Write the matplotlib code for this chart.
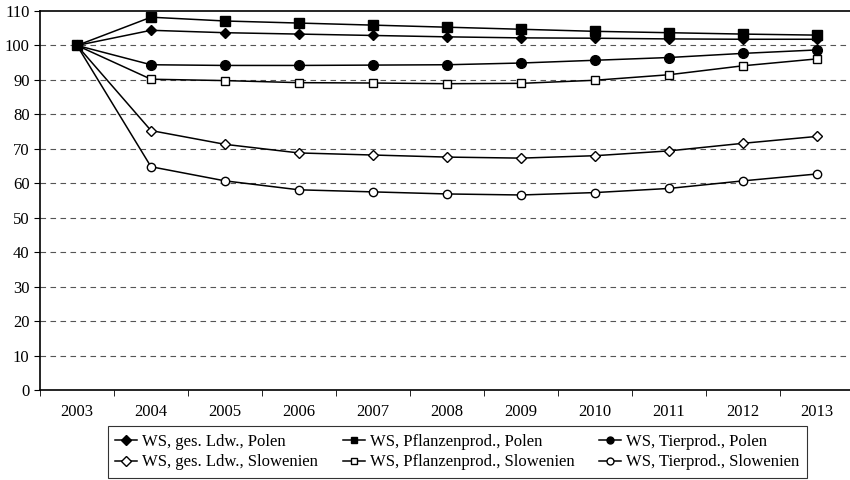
import matplotlib
matplotlib.use("Agg")
import matplotlib.pyplot as plt
import numpy as np

years = ["2003", "2004", "2005", "2006", "2007", "2008", "2009", "2010", "2011", "2012", "2013"]

ges_polen = [100, 104.4, 103.7, 103.3, 102.9, 102.5, 102.2, 102.1, 101.9, 101.8, 101.8]
pflanzen_polen = [100, 108.2, 107.1, 106.5, 105.9, 105.3, 104.7, 104.1, 103.7, 103.3, 103.0]
tier_polen = [100, 94.4, 94.2, 94.2, 94.3, 94.4, 94.9, 95.7, 96.5, 97.7, 98.7]
ges_slow = [100, 75.3, 71.3, 68.8, 68.2, 67.6, 67.3, 68.0, 69.4, 71.6, 73.6]
pflanzen_slow = [100, 90.2, 89.8, 89.2, 89.1, 88.9, 89.0, 89.9, 91.5, 94.1, 96.1]
tier_slow = [100, 64.8, 60.7, 58.1, 57.5, 56.9, 56.6, 57.3, 58.5, 60.7, 62.7]

labels = ["WS, ges. Ldw., Polen", "WS, Pflanzenprod., Polen", "WS, Tierprod., Polen",
          "WS, ges. Ldw., Slowenien", "WS, Pflanzenprod., Slowenien", "WS, Tierprod., Slowenien"]

plt.rcParams['font.family'] = ['Liberation Serif', 'DejaVu Serif']

fig = plt.figure(figsize=(8.5, 4.8), dpi=100)
ax = fig.add_axes([40/850, 90/480, 814/850, 379/480])

x = np.arange(len(years))
series = [ges_polen, pflanzen_polen, tier_polen, ges_slow, pflanzen_slow, tier_slow]
styles = [
    dict(marker='D', markersize=5, markerfacecolor='black'),
    dict(marker='s', markersize=7, markerfacecolor='black'),
    dict(marker='o', markersize=7, markerfacecolor='black'),
    dict(marker='D', markersize=5, markerfacecolor='white'),
    dict(marker='s', markersize=6, markerfacecolor='white'),
    dict(marker='o', markersize=6, markerfacecolor='white'),
]
zorders = [5, 6, 5, 3, 3, 3]
handles = []
for s, st, lab, z in zip(series, styles, labels, zorders):
    h, = ax.plot(x, s, color='black', linewidth=1.1, markeredgecolor='black',
                 markeredgewidth=1.0, label=lab, zorder=z, **st)
    handles.append(h)

ax.set_xlim(-0.5, len(years) - 0.5)
ax.set_ylim(0, 110)
ax.set_yticks(np.arange(0, 111, 10))
ax.set_xticks(x)
ax.set_xticklabels(years)
ax.set_xticks(np.arange(-0.5, len(years), 1), minor=True)
ax.tick_params(axis='x', which='major', length=0, pad=10, labelsize=12)
ax.tick_params(axis='x', which='minor', length=4, direction='out')
ax.tick_params(axis='y', length=4, direction='out', labelsize=12)

for v in range(10, 110, 10):
    ax.axhline(v, color='#555555', linestyle=(0, (5, 4)), linewidth=0.8, zorder=0)

for sp in ['top', 'left', 'bottom']:
    ax.spines[sp].set_linewidth(1.2)
ax.spines['right'].set_visible(False)

order = [0, 3, 1, 4, 2, 5]
leg = fig.legend([handles[i] for i in order], [labels[i] for i in order],
                 ncol=3, loc='lower left', bbox_to_anchor=(108/850, 2/480),
                 frameon=True, fancybox=False, fontsize=12, handlelength=1.3,
                 columnspacing=1.5, handletextpad=0.3, borderpad=0.45,
                 labelspacing=0.3, borderaxespad=0)
leg.get_frame().set_edgecolor('black')
leg.get_frame().set_linewidth(0.8)
for h in leg.legend_handles:
    h.set_markersize(5)

fig.savefig("out.png", dpi=100)
